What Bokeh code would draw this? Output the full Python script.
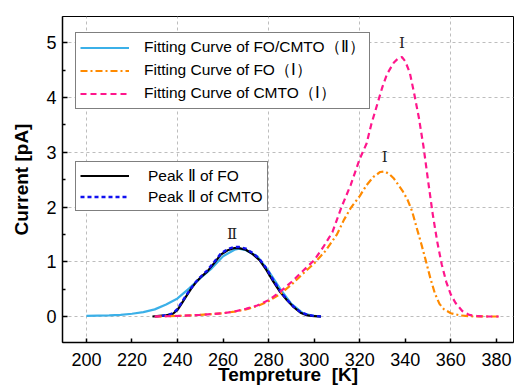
from bokeh.plotting import figure
from bokeh.models import Legend, LegendItem, FixedTicker
from bokeh.core.properties import value
from bokeh.embed import file_html
from bokeh.resources import INLINE
import numpy as np

# ---- data ----
x_ticks = [200, 220, 240, 260, 280, 300, 320, 340, 360, 380]
x_grid = [200, 240, 280, 320, 360]
y_ticks = [0, 1, 2, 3, 4, 5]
y_minor = [-0.5, 0.5, 1.5, 2.5, 3.5, 4.5]

fit2_T = [200, 205, 210, 215, 220, 225, 230, 235, 240, 245, 250, 255, 260, 265, 267,
          270, 275, 280, 285, 290, 295, 300, 303]
fit2_I = [0.01, 0.015, 0.02, 0.03, 0.05, 0.08, 0.13, 0.22, 0.33, 0.51, 0.70, 0.88, 1.10, 1.22, 1.24,
          1.21, 1.10, 0.83, 0.51, 0.23, 0.06, 0.01, 0.0]

fo2_T = [229, 232, 235, 238, 240, 242, 244, 246, 248, 250, 253, 256, 259, 262, 265, 267,
         270, 273, 276, 279, 282, 285, 288, 291, 294, 297, 300, 303]
fo2_I = [0.0, 0.01, 0.02, 0.05, 0.12, 0.25, 0.38, 0.51, 0.62, 0.71, 0.82, 0.97, 1.13, 1.21, 1.25, 1.25,
         1.22, 1.14, 1.03, 0.85, 0.64, 0.45, 0.30, 0.17, 0.07, 0.02, 0.005, 0.0]

cmto2_T = [230, 233, 236, 238, 240, 242, 244, 246, 248, 250, 253, 256, 259, 262, 265, 267,
           270, 273, 276, 279, 282, 285, 288, 291, 294, 297, 300, 303]
cmto2_I = [0.0, 0.01, 0.03, 0.06, 0.14, 0.27, 0.40, 0.52, 0.63, 0.72, 0.84, 0.99, 1.15, 1.23, 1.27, 1.27,
           1.24, 1.16, 1.05, 0.88, 0.67, 0.47, 0.31, 0.18, 0.08, 0.03, 0.01, 0.0]

fo1_T = [230, 240, 250, 260, 265, 270, 275, 280, 285, 290, 295, 300, 305, 310, 313, 316, 320, 323,
         326, 329, 331, 333, 335, 337, 339, 341, 343, 345, 347, 349, 351, 353, 355, 357, 360, 364,
         368, 375, 381]
fo1_I = [0.0, 0.01, 0.03, 0.06, 0.09, 0.13, 0.19, 0.28, 0.41, 0.58, 0.78, 0.97, 1.2, 1.5, 1.76, 1.98,
         2.2, 2.4, 2.55, 2.64, 2.65, 2.6, 2.52, 2.4, 2.28, 2.13, 1.92, 1.62, 1.33, 1.02, 0.7, 0.42,
         0.23, 0.13, 0.06, 0.02, 0.005, 0.0, 0.0]

cmto1_T = [230, 240, 250, 260, 265, 270, 275, 280, 285, 290, 295, 300, 304, 308, 312, 316, 320,
           323, 325, 327.5, 330, 332, 335, 337, 338.5, 340, 342, 344, 346, 348, 350, 352, 354, 356,
           358, 360, 362, 365, 368, 372, 376, 381]
cmto1_I = [0.0, 0.01, 0.03, 0.06, 0.09, 0.14, 0.2, 0.3, 0.45, 0.63, 0.83, 1.03, 1.27, 1.54, 2.0,
           2.4, 2.88, 3.16, 3.5, 3.85, 4.2, 4.43, 4.64, 4.72, 4.74, 4.66, 4.45, 4.05, 3.62, 3.1,
           2.48, 1.88, 1.37, 0.95, 0.63, 0.4, 0.25, 0.1, 0.03, 0.005, 0.0, 0.0]

labels_top = ["Fitting Curve of FO/CMTO（Ⅱ）", "Fitting Curve of FO（Ⅰ）", "Fitting Curve of CMTO（Ⅰ）"]
labels_bot = ["Peak Ⅱ of FO", "Peak Ⅱ of CMTO"]

# ---- figure ----
p = figure(width=515, height=390, x_range=(189.5, 387.5), y_range=(-0.475, 5.48),
           output_backend="svg", toolbar_location=None,
           min_border_left=62, min_border_right=2, min_border_top=16, min_border_bottom=48)
p.background_fill_color = "white"
p.border_fill_color = "white"
p.outline_line_color = "black"
p.outline_line_width = 1

BLUE = "#3BB0E8"
ORANGE = "#FF8A00"
PINK = "#FF168C"

r_fit = p.line(fit2_T, fit2_I, line_color=BLUE, line_width=2.2)
r_fo2 = p.line(fo2_T, fo2_I, line_color="black", line_width=2.2)
r_cm2 = p.line(cmto2_T, cmto2_I, line_color="#1010F0", line_width=2.4, line_dash="4 3")
r_fo1 = p.line(fo1_T, fo1_I, line_color=ORANGE, line_width=2.2, line_dash="7 3 2 3")
r_cm1 = p.line(cmto1_T, cmto1_I, line_color=PINK, line_width=2.2, line_dash="6 4")

# peak labels
i2 = int(np.argmax(fo2_I))
i1o = int(np.argmax(fo1_I))
i1c = int(np.argmax(cmto1_I))
p.text(x=[fo2_T[i2] - 1, fo1_T[i1o], cmto1_T[i1c]],
       y=[fo2_I[i2], fo1_I[i1o], cmto1_I[i1c]],
       text=["Ⅱ", "Ⅰ", "Ⅰ"], text_font=value("DejaVu Serif"), text_font_size="15px",
       text_align="center", text_baseline="bottom", y_offset=-5, text_color="#222222")

# axes
for ax in (p.xaxis[0], p.yaxis[0]):
    ax.axis_line_color = "black"
    ax.axis_line_width = 1.5
    ax.major_tick_line_color = "black"
    ax.major_tick_line_width = 1.5
    ax.minor_tick_line_color = "black"
    ax.minor_tick_line_width = 1.5
    ax.major_tick_in = 5
    ax.major_tick_out = 0
    ax.minor_tick_in = 3
    ax.minor_tick_out = 0
    ax.major_label_text_font = "Liberation Sans"
    ax.major_label_text_font_size = "18px"
    ax.major_label_text_color = "black"
    ax.axis_label_text_font = "Liberation Sans"
    ax.axis_label_text_font_size = "19px"
    ax.axis_label_text_font_style = "bold"
    ax.axis_label_text_color = "black"

p.xaxis[0].ticker = FixedTicker(ticks=x_ticks)
p.xaxis[0].major_tick_in = 4
p.yaxis[0].ticker = FixedTicker(ticks=y_ticks, minor_ticks=y_minor)
p.xaxis[0].axis_label = "Tempreture\u00a0\u00a0[K]"
p.yaxis[0].axis_label = "Current [pA]"
p.xaxis[0].major_label_standoff = 10
p.xaxis[0].axis_label_standoff = -5
p.yaxis[0].major_label_standoff = 6
p.yaxis[0].axis_label_standoff = 11

p.xgrid[0].ticker = FixedTicker(ticks=x_grid)
p.ygrid[0].ticker = FixedTicker(ticks=y_ticks)
for g in (p.xgrid[0], p.ygrid[0]):
    g.grid_line_color = "#bdbdbd"
    g.grid_line_dash = "3 3"
    g.grid_line_width = 1

# legends
def make_legend(items, loc, standoff):
    lg = Legend(items=items, location=loc, orientation="vertical",
                border_line_color="black", border_line_width=1.5,
                background_fill_color="white", background_fill_alpha=1,
                label_text_font="Liberation Sans", label_text_font_size="15.5px",
                label_text_color="black", glyph_width=49, glyph_height=19,
                label_height=19, spacing=2, padding=4, margin=0,
                label_standoff=standoff)
    return lg

leg1 = make_legend([LegendItem(label=labels_top[0], renderers=[r_fit]),
                    LegendItem(label=labels_top[1], renderers=[r_fo1]),
                    LegendItem(label=labels_top[2], renderers=[r_cm1])], (13, 233), 15)
leg2 = make_legend([LegendItem(label=labels_bot[0], renderers=[r_fo2]),
                    LegendItem(label=labels_bot[1], renderers=[r_cm2])], (13, 131), 19)
p.add_layout(leg1, "center")
p.add_layout(leg2, "center")

open("out.html", "w").write(file_html(p, INLINE))
